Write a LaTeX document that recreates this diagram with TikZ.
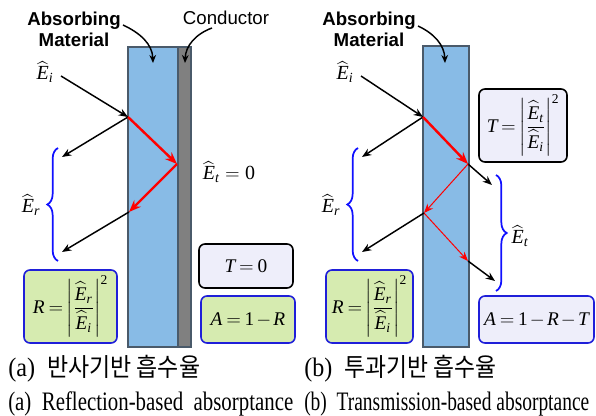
\documentclass[tikz,border=0pt]{standalone}
\usepackage{amsmath}
\usepackage{graphicx}
\usepackage{fontspec}
\setmainfont{Liberation Serif}
\newfontfamily\labsans{Liberation Sans}
\newfontfamily\capserif{Liberation Serif}
\newfontfamily\capkr{Noto Sans CJK KR}
\newcommand{\mvar}[1]{\text{\itshape #1}}
\newcommand{\mnum}[1]{\text{\upshape #1}}
\newcommand{\Ehat}[1]{\widehat{\mvar{E}}_{\mvar{#1}}}
\newcommand{\tightmath}{\medmuskip=2mu\relax\thickmuskip=3.5mu\relax}
\newsavebox\capbox
\newcommand{\fitw}[2]{\sbox\capbox{#2}\scalebox{\fpeval{(#1)/(\the\wd\capbox)}}[1]{\usebox\capbox}}
\usetikzlibrary{arrows.meta,decorations.pathreplacing,calc}
\definecolor{slabblue}{HTML}{88BBE6}
\definecolor{slabedge}{HTML}{4A5A6A}
\definecolor{condgray}{HTML}{808080}
\definecolor{boxgreen}{HTML}{D6EBB0}
\definecolor{boxlav}{HTML}{EEEEFA}
\definecolor{boxblue}{HTML}{1F1FD9}
\definecolor{bracecol}{HTML}{1010FF}
\begin{document}
\begin{tikzpicture}[x=0.75pt,y=-0.75pt,
  slab/.style={draw=slabedge,fill=slabblue,line width=0.9pt},
  cond/.style={draw=slabedge,fill=condgray,line width=0.9pt},
  bold title/.style={font=\labsans\bfseries\fontsize{14}{16}\selectfont,align=center,inner sep=1pt},
  plain title/.style={font=\labsans\fontsize{14}{16}\selectfont,inner sep=1pt},
  mathlab/.style={font=\fontsize{15}{18}\selectfont,inner sep=0pt},
  eqbox/.style={rounded corners=4.5pt,line width=1.2pt,inner sep=0pt,
    font=\fontsize{14.5}{17}\selectfont},
  greenbox/.style={eqbox,fill=boxgreen,draw=boxblue},
  lavbox/.style={eqbox,fill=boxlav,draw=black},
  lavbluebox/.style={eqbox,fill=boxlav,draw=boxblue},
  ray/.style={-{Stealth[length=7pt,width=5.5pt]},line width=1.1pt,black},
  redthick/.style={-{Stealth[length=9pt,width=7pt]},line width=1.8pt,red},
  redthin/.style={-{Stealth[length=7pt,width=5.5pt]},line width=0.75pt,red},
  pointer/.style={-{Stealth[length=6pt,width=5pt]},line width=1.1pt,black},
  bracestyle/.style={draw=bracecol,line width=1.3pt,decorate,decoration={brace,amplitude=8pt}},
  caption/.style={anchor=west,inner sep=0pt,font=\fontsize{20}{22}\selectfont}
]
\useasboundingbox (0,0) rectangle (596,416);

% ---------------- panel (a) ----------------
\draw[slab] (128,47) rectangle (178,347);
\draw[cond] (178,47) rectangle (191,347);
\node[bold title] (absA) at (74,29) {Absorbing\\Material};
\node[plain title] (condA) at (226,18) {Conductor};
\coordinate (absAs) at (123,25);
\coordinate (absAe) at (153,63);
\coordinate (condAs) at (212,28);
\coordinate (condAe) at (185,63);
\draw[pointer] (absAs) to[out=-25,in=92] (absAe);
\draw[pointer] (condAs) to[out=200,in=88] (condAe);

\node[mathlab] (EiA) at (45,72) {$\Ehat{i}$};
\coordinate (iA) at (61,76);
\coordinate (P1) at (128,117);
\coordinate (rA1) at (62,157);
\coordinate (P2) at (177,164);
\coordinate (P3) at (129,212);
\coordinate (rA2) at (62,252);
\draw[ray] (iA) -- (P1);
\draw[ray] (P1) -- (rA1);
\draw[redthick] (P1) -- (P2);
\draw[redthick] (P2) -- (P3);
\draw[ray] (P3) -- (rA2);

\coordinate (brA1) at (58,261);
\coordinate (brA2) at (58,148);
\draw[bracestyle] (brA1) -- (brA2);
\node[mathlab] (ErA) at (31,205) {$\Ehat{r}$};
\node[mathlab] (EtA) at (229,172) {$\Ehat{t} = \mnum{0}$};

\node[greenbox,minimum width=69.75pt,minimum height=54.75pt] (RA) at (70.5,306.5)
  {$\tightmath\mvar{R}=\left|\dfrac{\Ehat{r}}{\Ehat{i}}\right|^{\mnum{2}}$};
\node[lavbox,minimum width=70.5pt,minimum height=33pt] (TA) at (246,266) {$\tightmath\mvar{T}=\mnum{0}$};
\node[greenbox,minimum width=70.5pt,minimum height=35.25pt] (AA) at (248,319.5) {$\tightmath\mvar{A}=\mnum{1}-\mvar{R}$};

% ---------------- panel (b) ----------------
\draw[slab] (423,46) rectangle (469,347);
\node[bold title] (absB) at (369,29) {Absorbing\\Material};
\coordinate (absBs) at (418,26);
\coordinate (absBe) at (445,63);
\draw[pointer] (absBs) to[out=-25,in=92] (absBe);

\node[mathlab] (EiB) at (345,72) {$\Ehat{i}$};
\coordinate (iB) at (361,76);
\coordinate (Q1) at (423,117);
\coordinate (rB1) at (362,157);
\coordinate (Q2) at (468,164);
\coordinate (tB1) at (492,185);
\coordinate (Q3) at (424,213);
\coordinate (rB2) at (362,252);
\coordinate (Q4) at (468,261);
\coordinate (tB2) at (495,281);
\draw[ray] (iB) -- (Q1);
\draw[ray] (Q1) -- (rB1);
\draw[redthick] (Q1) -- (Q2);
\draw[ray] (Q2) -- (tB1);
\draw[redthin] (Q2) -- (Q3);
\draw[redthin] (Q3) -- (Q4);
\draw[ray] (Q3) -- (rB2);
\draw[ray] (Q4) -- (tB2);

\coordinate (brB1) at (358,261);
\coordinate (brB2) at (358,148);
\draw[bracestyle] (brB1) -- (brB2);
\node[mathlab] (ErB) at (331,205) {$\Ehat{r}$};
\coordinate (brC1) at (496,175);
\coordinate (brC2) at (496,291);
\draw[bracestyle] (brC1) -- (brC2);
\node[mathlab] (EtB) at (520,236) {$\Ehat{t}$};

\node[lavbox,minimum width=66pt,minimum height=54.75pt] (TB) at (523,125.5)
  {$\tightmath\mvar{T}=\left|\dfrac{\Ehat{t}}{\Ehat{i}}\right|^{\mnum{2}}$};
\node[greenbox,minimum width=65.25pt,minimum height=54.75pt] (RB) at (369.5,306.5)
  {$\tightmath\mvar{R}=\left|\dfrac{\Ehat{r}}{\Ehat{i}}\right|^{\mnum{2}}$};
\node[lavbluebox,minimum width=86.25pt,minimum height=35.25pt] (AB) at (536.5,319.5) {$\tightmath\mvar{A}=\mnum{1}-\mvar{R}-\mvar{T}$};

% ---------------- captions ----------------
\node[caption] (capA1) at (8,369) {\fitw{144pt}{\capserif (a)\ \ {\capkr\fontsize{19}{21}\selectfont 반사기반 흡수율}}};
\node[caption] (capB1) at (304,369) {\fitw{144pt}{\capserif (b)\ \ {\capkr\fontsize{19}{21}\selectfont 투과기반 흡수율}}};
\node[caption] (capA2) at (8,404) {\fitw{213.75pt}{\capserif (a)\ \ Reflection-based\ \ absorptance}};
\node[caption] (capB2) at (304,404) {\fitw{213.75pt}{\capserif (b)\ \ Transmission-based\ absorptance}};
\end{tikzpicture}
\end{document}
